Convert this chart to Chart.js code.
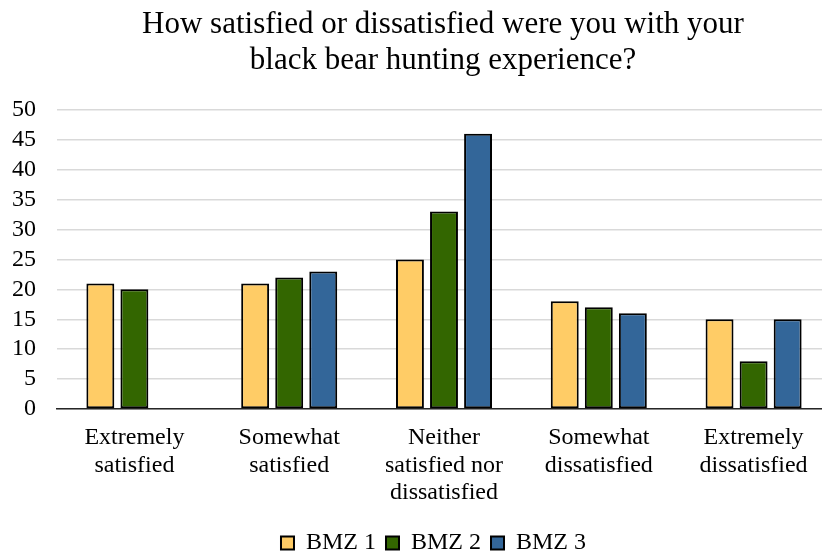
<!DOCTYPE html>
<html>
<head>
<meta charset="utf-8">
<script src="https://cdn.jsdelivr.net/npm/chart.js@4/dist/chart.umd.min.js"></script>
<style>
  html, body { margin: 0; padding: 0; background: #fff; overflow: hidden; }
  .wrap { width: 822px; height: 556px; overflow: hidden; }
  .inner { width: 886px; height: 565px; }
</style>
</head>
<body>
<div class="wrap"><div class="inner"><canvas id="chart"></canvas></div></div>
<script>
/* data */
const categories = [
  ['Extremely', 'satisfied'],
  ['Somewhat', 'satisfied'],
  ['Neither', 'satisfied nor', 'dissatisfied'],
  ['Somewhat', 'dissatisfied'],
  ['Extremely', 'dissatisfied']
];
const bmz1 = [21, 21, 25, 18, 15];
const bmz2 = [20, 22, 33, 17, 8];
const bmz3 = [null, 23, 46, 16, 15];
const seriesNames = ['BMZ 1', 'BMZ 2', 'BMZ 3'];
const yTicks = [0, 5, 10, 15, 20, 25, 30, 35, 40, 45, 50];

const FONT = "'Liberation Serif', 'Times New Roman', serif";
const colors = ['#FFCC66', '#336600', '#336699'];

const datasets = [bmz1, bmz2, bmz3].map((d, i) => ({
  label: seriesNames[i],
  data: d,
  backgroundColor: colors[i],
  borderColor: '#000',
  borderWidth: 2,
  borderSkipped: false,
  categoryPercentage: 0.66,
  barPercentage: 0.82
}));

// centre title on the whole (uncropped) chart, legend a bit left of that
const recentre = {
  id: 'recentre',
  afterLayout(chart) {
    const right = chart.chartArea.right;
    chart.titleBlock.left = chart.width - right;
    chart.legend.left = 36;
  }
};

new Chart(document.getElementById('chart').getContext('2d'), {
  type: 'bar',
  data: { labels: categories, datasets },
  plugins: [recentre],
  options: {
    responsive: true, maintainAspectRatio: false, animation: false,
    layout: { padding: { left: 0, right: 55, top: 0, bottom: 0 } },
    plugins: {
      title: {
        display: true,
        text: ['How satisfied or dissatisfied were you with your', 'black bear hunting experience?'],
        color: '#000',
        font: { family: FONT, size: 31, weight: 'normal', lineHeight: 1.16 },
        padding: { top: 7, bottom: 31 }
      },
      legend: {
        position: 'bottom',
        labels: {
          color: '#000',
          font: { family: FONT, size: 24 },
          boxWidth: 13, boxHeight: 13, padding: 10
        }
      },
      tooltip: { enabled: false }
    },
    scales: {
      x: {
        grid: { display: false, drawTicks: false },
        border: { color: '#262626', width: 1.5 },
        ticks: { color: '#000', font: { family: FONT, size: 24, lineHeight: 1.15 }, padding: 15, maxRotation: 0, autoSkip: false },
        afterFit: s => { s.height = 112; }
      },
      y: {
        min: 0, max: 50,
        afterBuildTicks: s => { s.ticks = yTicks.map(v => ({ value: v })); },
        grid: { color: '#d9d9d9', lineWidth: 1.5, drawTicks: false },
        border: { display: false },
        ticks: { color: '#000', font: { family: FONT, size: 24 }, padding: 21, autoSkip: false },
        afterFit: s => { s.width = 57; }
      }
    }
  }
});
</script>
</body>
</html>
